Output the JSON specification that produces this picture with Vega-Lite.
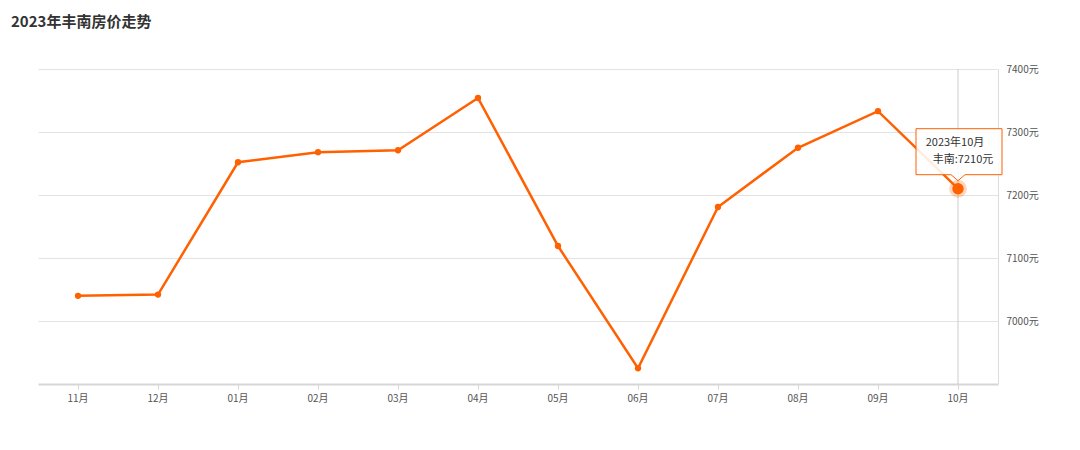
{
  "$schema": "https://vega.github.io/schema/vega-lite/v6.json",
  "width": 960,
  "height": 315,
  "autosize": {"type": "none"},
  "padding": {"left": 38, "top": 69, "right": 82, "bottom": 66},
  "background": "#ffffff",
  "title": {
    "text": "2023年丰南房价走势",
    "anchor": "start",
    "frame": "group",
    "dx": -27,
    "offset": 34,
    "fontSize": 15,
    "fontWeight": "bold",
    "color": "#333333",
    "font": "Noto Sans CJK SC"
  },
  "config": {
    "view": {"stroke": null},
    "font": "Noto Sans CJK SC"
  },
  "data": {
    "values": [
      {"month": "11月", "price": 7040},
      {"month": "12月", "price": 7042},
      {"month": "01月", "price": 7252},
      {"month": "02月", "price": 7268},
      {"month": "03月", "price": 7271},
      {"month": "04月", "price": 7354},
      {"month": "05月", "price": 7119},
      {"month": "06月", "price": 6925},
      {"month": "07月", "price": 7181},
      {"month": "08月", "price": 7275},
      {"month": "09月", "price": 7333},
      {"month": "10月", "price": 7210}
    ]
  },
  "encoding": {
    "x": {
      "field": "month",
      "type": "nominal",
      "sort": ["11月", "12月", "01月", "02月", "03月", "04月", "05月", "06月", "07月", "08月", "09月", "10月"],
      "scale": {"paddingInner": 0, "paddingOuter": 0},
      "axis": {
        "title": null,
        "labelAngle": 0,
        "labelFontSize": 10,
        "labelColor": "#555555",
        "labelPadding": 4,
        "domainColor": "#d6d6d6",
        "domainWidth": 2,
        "tickColor": "#d6d6d6",
        "tickSize": 5,
        "grid": false
      }
    },
    "y": {
      "field": "price",
      "type": "quantitative",
      "scale": {"domain": [6900, 7400], "nice": false, "zero": false},
      "axis": {
        "orient": "right",
        "title": null,
        "values": [7000, 7100, 7200, 7300, 7400],
        "labelExpr": "datum.value + '元'",
        "labelFontSize": 10,
        "labelColor": "#555555",
        "labelPadding": 8,
        "ticks": false,
        "domainColor": "#dddddd",
        "domainWidth": 1,
        "gridColor": "#e3e3e3",
        "gridWidth": 1
      }
    }
  },
  "layer": [
    {
      "transform": [{"filter": "datum.month == '10月'"}],
      "mark": {"type": "rule", "color": "#cccccc", "strokeWidth": 1},
      "encoding": {"y": {"datum": 7400}, "y2": {"datum": 6900}}
    },
    {
      "mark": {"type": "line", "color": "#ff6000", "strokeWidth": 2.5}
    },
    {
      "mark": {"type": "circle", "color": "#ff6000", "size": 40, "opacity": 1}
    },
    {
      "transform": [{"filter": "datum.month == '10月'"}],
      "mark": {"type": "circle", "color": "#ff6000", "size": 320, "opacity": 0.25}
    },
    {
      "transform": [{"filter": "datum.month == '10月'"}],
      "mark": {"type": "circle", "color": "#ff6000", "size": 130, "opacity": 1}
    },
    {
      "transform": [{"filter": "datum.month == '10月'"}],
      "mark": {
        "type": "point",
        "shape": "M-42,-60H44V-14H7L0,-8L-7,-14H-42Z",
        "size": 4,
        "filled": true,
        "fill": "#ffffff",
        "fillOpacity": 0.88,
        "stroke": "#ff6000",
        "strokeWidth": 1,
        "opacity": 1
      }
    },
    {
      "transform": [{"filter": "datum.month == '10月'"}],
      "mark": {
        "type": "text",
        "text": "2023年10月",
        "fontSize": 11,
        "color": "#333333",
        "align": "center",
        "baseline": "middle",
        "dx": -3,
        "dy": -46
      }
    },
    {
      "transform": [{"filter": "datum.month == '10月'"}],
      "mark": {
        "type": "text",
        "text": "丰南:7210元",
        "fontSize": 11,
        "color": "#333333",
        "align": "center",
        "baseline": "middle",
        "dx": 5,
        "dy": -29
      }
    }
  ]
}
